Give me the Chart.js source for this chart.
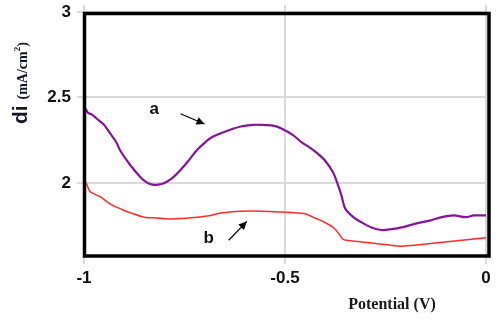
<!DOCTYPE html>
<html>
<head>
<meta charset="utf-8">
<script src="https://cdn.jsdelivr.net/npm/chart.js@4.4.1/dist/chart.umd.min.js"></script>
<style>
  html, body { margin: 0; padding: 0; background: #fff; }
  #wrap { width: 500px; height: 320px; }
</style>
</head>
<body>
<div id="wrap"><canvas id="chart"></canvas></div>
<script>
// curve a (purple)
const potA = [-1.0, -0.995, -0.99, -0.98, -0.97, -0.96, -0.95, -0.935, -0.92, -0.91, -0.885, -0.86, -0.845, -0.83,
  -0.815, -0.8, -0.78, -0.76, -0.74, -0.72, -0.7, -0.68, -0.65, -0.61, -0.58, -0.56, -0.53, -0.51, -0.48, -0.46,
  -0.44, -0.42, -0.40, -0.38, -0.37, -0.36, -0.35, -0.33, -0.31, -0.285, -0.26, -0.235, -0.21, -0.17, -0.14,
  -0.11, -0.08, -0.05, -0.03, 0.0];
const curA = [2.44, 2.43, 2.41, 2.40, 2.38, 2.36, 2.34, 2.29, 2.24, 2.19, 2.105, 2.035, 2.005, 1.99,
  1.99, 2.0, 2.03, 2.076, 2.13, 2.19, 2.235, 2.27, 2.30, 2.33, 2.34, 2.34, 2.335, 2.32, 2.28, 2.24,
  2.21, 2.175, 2.13, 2.06, 2.0, 1.93, 1.85, 1.8, 1.77, 1.74, 1.725, 1.73, 1.74, 1.765, 1.78,
  1.80, 1.81, 1.80, 1.81, 1.81];

// curve b (red)
const potB = [-1.0, -0.995, -0.985, -0.97, -0.96, -0.93, -0.91, -0.89, -0.85, -0.82, -0.79, -0.74, -0.685, -0.66,
  -0.59, -0.51, -0.45, -0.43, -0.41, -0.38, -0.365, -0.355, -0.33, -0.29, -0.25, -0.21, -0.16, -0.12, -0.06, 0.0];
const curB = [2.02, 2.0, 1.95, 1.93, 1.92, 1.87, 1.85, 1.83, 1.80, 1.795, 1.79, 1.795, 1.81, 1.825,
  1.836, 1.83, 1.82, 1.80, 1.78, 1.74, 1.70, 1.67, 1.66, 1.65, 1.64, 1.63, 1.64, 1.65, 1.665, 1.68];

const xTicks = [-1, -0.5, 0];
const yTicks = [2, 2.5, 3];

const toPoints = (xs, ys) => xs.map((x, i) => ({ x: x, y: ys[i] }));

// frame, titles and the a/b markers
const decorPlugin = {
  id: 'decor',
  afterDatasetsDraw(chart) {
    const ctx = chart.ctx;
    const xs = chart.scales.x, ys = chart.scales.y;
    const area = chart.chartArea;

    // thick black box
    const left = xs.getPixelForValue(-1) + 0.5;
    const right = xs.getPixelForValue(0) + 3;
    const top = ys.getPixelForValue(3) + 1.5;
    const bottom = area.bottom - 1;
    ctx.save();
    ctx.strokeStyle = '#000';
    ctx.lineWidth = 3.5;
    ctx.strokeRect(left, top, right - left, bottom - top);

    // labels a / b with arrows
    const arrow = (x1, y1, x2, y2) => {
      ctx.strokeStyle = '#000';
      ctx.fillStyle = '#000';
      ctx.lineWidth = 1.2;
      ctx.beginPath();
      ctx.moveTo(x1, y1);
      ctx.lineTo(x2, y2);
      ctx.stroke();
      const ang = Math.atan2(y2 - y1, x2 - x1);
      ctx.beginPath();
      ctx.moveTo(x2, y2);
      ctx.lineTo(x2 - 9 * Math.cos(ang - 0.45), y2 - 9 * Math.sin(ang - 0.45));
      ctx.lineTo(x2 - 9 * Math.cos(ang + 0.45), y2 - 9 * Math.sin(ang + 0.45));
      ctx.closePath();
      ctx.fill();
    };
    ctx.font = 'bold 17px "Liberation Sans", Arial, sans-serif';
    ctx.fillStyle = '#111';
    ctx.textAlign = 'center';
    ctx.textBaseline = 'middle';
    ctx.fillText('a', xs.getPixelForValue(-0.825), ys.getPixelForValue(2.43));
    arrow(xs.getPixelForValue(-0.76), ys.getPixelForValue(2.405), xs.getPixelForValue(-0.7), ys.getPixelForValue(2.345));
    ctx.fillStyle = '#111';
    ctx.fillText('b', xs.getPixelForValue(-0.69), ys.getPixelForValue(1.675));
    arrow(xs.getPixelForValue(-0.64), ys.getPixelForValue(1.665), xs.getPixelForValue(-0.595), ys.getPixelForValue(1.775));

    // x title
    ctx.fillStyle = '#1a1a1a';
    ctx.font = 'bold 16px "Liberation Serif", "Times New Roman", serif';
    ctx.textAlign = 'center';
    ctx.textBaseline = 'middle';
    ctx.fillText('Potential (V)', 392, 305);

    // y title, rotated, mixed fonts
    ctx.translate(27, 124);
    ctx.rotate(-Math.PI / 2);
    ctx.textAlign = 'left';
    ctx.textBaseline = 'alphabetic';
    ctx.fillStyle = '#14142a';
    let cx = 0;
    ctx.font = 'bold 21px "Liberation Sans", Arial, sans-serif';
    ctx.fillText('di', cx, 0);
    cx += ctx.measureText('di ').width;
    ctx.font = 'bold 14px "Liberation Serif", "Times New Roman", serif';
    ctx.fillText('(mA/cm', cx, 0);
    cx += ctx.measureText('(mA/cm').width;
    ctx.font = 'bold 9px "Liberation Serif", "Times New Roman", serif';
    ctx.fillText('2', cx, -7);
    cx += ctx.measureText('2').width;
    ctx.font = 'bold 14px "Liberation Serif", "Times New Roman", serif';
    ctx.fillText(')', cx, 0);
    ctx.restore();
  }
};

new Chart(document.getElementById('chart').getContext('2d'), {
  type: 'line',
  data: {
    datasets: [
      {
        label: 'a',
        data: toPoints(potA, curA),
        borderColor: '#86139a',
        borderWidth: 2.2,
        pointRadius: 0,
        tension: 0.3,
      },
      {
        label: 'b',
        data: toPoints(potB, curB),
        borderColor: '#ff2a2a',
        borderWidth: 1.5,
        pointRadius: 0,
        tension: 0.3,
      },
    ],
  },
  options: {
    responsive: true,
    maintainAspectRatio: false,
    animation: false,
    layout: { padding: { top: 5, right: 14, left: 0, bottom: 0 } },
    plugins: {
      legend: { display: false },
      tooltip: { enabled: false },
    },
    scales: {
      x: {
        type: 'linear',
        min: -1,
        max: 0,
        afterBuildTicks: (scale) => { scale.ticks = xTicks.map((v) => ({ value: v })); },
        afterFit: (scale) => { scale.height = 63; scale.paddingLeft = 0; scale.paddingRight = 0; },
        border: { display: false },
        grid: { color: '#d9d9d9', lineWidth: 2, tickLength: 7 },
        ticks: {
          color: '#111',
          padding: 4,
          maxRotation: 0,
          callback: (v) => String(v),
          font: { family: '"Liberation Sans", Arial, sans-serif', size: 17, weight: 'bold' },
        },
      },
      y: {
        min: 1.567,
        max: 3.041,
        afterBuildTicks: (scale) => { scale.ticks = yTicks.map((v) => ({ value: v })); },
        afterFit: (scale) => { scale.width = 84; scale.paddingTop = 0; scale.paddingBottom = 0; },
        border: { display: false },
        grid: { color: '#d9d9d9', lineWidth: 2, tickLength: 7 },
        ticks: {
          color: '#111',
          padding: 6,
          callback: (v) => String(v),
          font: { family: '"Liberation Sans", Arial, sans-serif', size: 17, weight: 'bold' },
        },
      },
    },
  },
  plugins: [decorPlugin],
});
</script>
</body>
</html>
